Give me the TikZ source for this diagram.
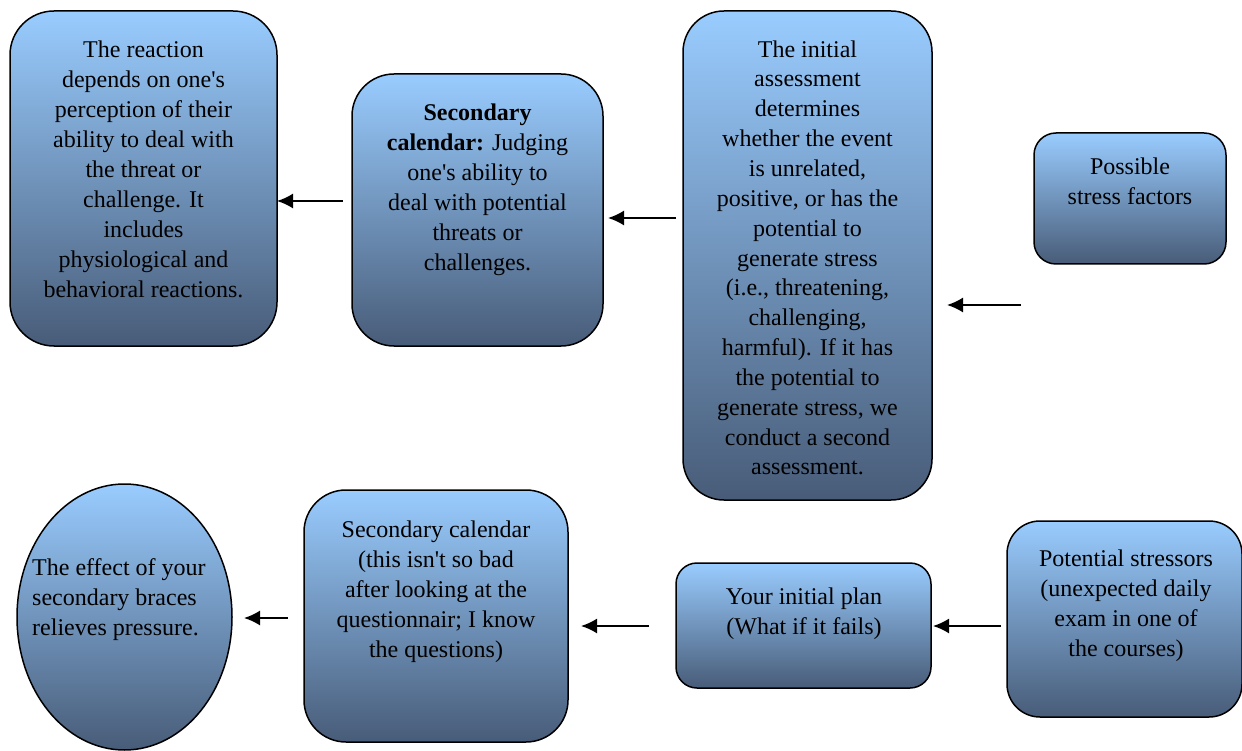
\documentclass[tikz,border=0pt]{standalone}
\usepackage{fontspec}
\setmainfont{Liberation Serif}
\usetikzlibrary{arrows.meta,shapes.geometric}
\definecolor{boxtop}{RGB}{153,204,255}
\definecolor{boxbot}{RGB}{72,92,120}
\newcommand{\apos}{\textquotesingle}
\tikzset{
  box/.style={draw=black, line width=1.5pt, top color=boxtop, bottom color=boxbot,
    inner sep=0pt, outer sep=0pt},
  rbox/.style={box, rectangle, rounded corners=#1},
  txt/.style={font=\fontsize{24}{30}\selectfont, align=center, anchor=north, inner sep=0pt},
  arr/.style={line width=1.8pt, -{Latex[length=16pt,width=15pt]}}
}
\begin{document}
\begin{tikzpicture}[x=1pt,y=-1pt]
\useasboundingbox (0,0) rectangle (1242,751);
% boxes
\node[rbox=44pt, minimum width=267pt, minimum height=335pt] (react) at (143.5,178.5) {};
\node[rbox=42pt, minimum width=251pt, minimum height=272pt] (sec) at (477.5,210) {};
\node[rbox=41pt, minimum width=249pt, minimum height=489pt] (init) at (807.5,255.5) {};
\node[rbox=22pt, minimum width=192pt, minimum height=131pt] (poss) at (1130,198.5) {};
\node[box, ellipse, minimum width=215pt, minimum height=266pt] (eff) at (124.5,617) {};
\node[rbox=42pt, minimum width=264pt, minimum height=252pt] (sec2) at (436,616) {};
\node[rbox=21pt, minimum width=255pt, minimum height=125pt] (plan) at (803.5,625.5) {};
\node[rbox=33pt, minimum width=235pt, minimum height=196pt] (pot) at (1124.5,619) {};
% texts
\node[txt] (treact) at (143.5,36) {\strut The reaction\\ depends on one\apos s\\ perception of their\\ ability to deal with\\ the threat or\\ challenge. It\\ includes\\ physiological and\\ behavioral reactions.};
\node[txt] (tsec) at (477.5,99) {\strut\textbf{Secondary}\\ \textbf{calendar:} Judging\\ one\apos s ability to\\ deal with potential\\ threats or\\ challenges.};
\node[txt, font=\fontsize{24}{29.85}\selectfont] (tinit) at (807.5,36) {\strut The initial\\ assessment\\ determines\\ whether the event\\ is unrelated,\\ positive, or has the\\ potential to\\ generate stress\\ (i.e., threatening,\\ challenging,\\ harmful). If it has\\ the potential to\\ generate stress, we\\ conduct a second\\ assessment.};
\node[txt] (tposs) at (1130,153) {\strut Possible\\ stress factors};
\node[txt, align=left, anchor=north west] (teff) at (32,554) {\strut The effect of your\\ secondary braces\\ relieves pressure.};
\node[txt] (tsec2) at (436,516) {\strut Secondary calendar\\ (this isn\apos t so bad\\ after looking at the\\ questionnair; I know\\ the questions)};
\node[txt] (tplan) at (804,583) {\strut Your initial plan\\ (What if it fails)};
\node[txt] (tpot) at (1126,545) {\strut Potential stressors\\ (unexpected daily\\ exam in one of\\ the courses)};
% arrow tails
\coordinate (c1) at (343,201);
\coordinate (c2) at (676,218);
\coordinate (c3) at (1021,305);
\coordinate (c4) at (1001,626);
\coordinate (c5) at (649,626);
\coordinate (c6) at (288,618);
% arrows
\draw[arr] (c1) -- (react.east |- c1);
\draw[arr, shorten >=5pt] (c2) -- (sec.east |- c2);
\draw[arr, shorten >=15pt] (c3) -- (init.east |- c3);
\draw[arr, shorten >=2pt] (c4) -- (plan.east |- c4);
\draw[arr, shorten >=13pt] (c5) -- (sec2.east |- c5);
\draw[arr, shorten >=12pt] (c6) -- (eff.east |- c6);
\end{tikzpicture}
\end{document}
